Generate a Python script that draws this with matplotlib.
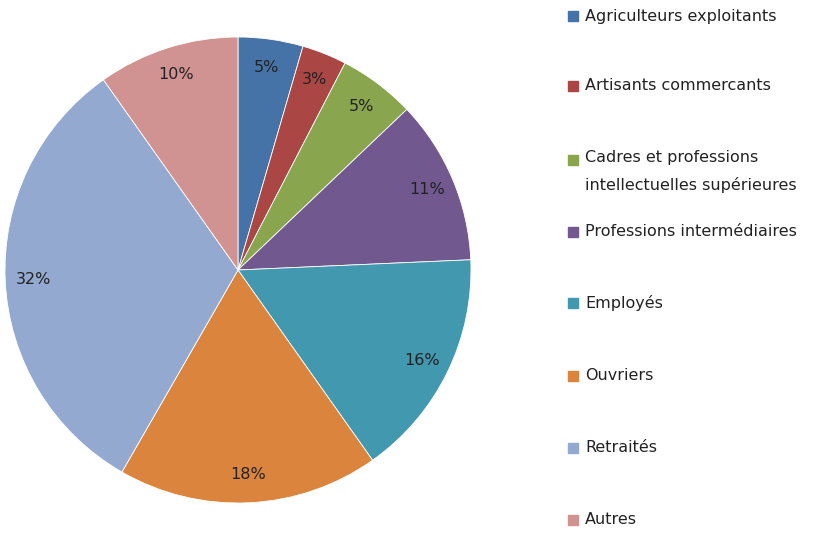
import matplotlib.pyplot as plt
from matplotlib.patches import Rectangle

labels = ["Agriculteurs exploitants", "Artisants commercants",
          "Cadres et professions\nintellectuelles supérieures",
          "Professions intermédiaires", "Employés", "Ouvriers",
          "Retraités", "Autres"]
values = [4.5, 3.1, 5.3, 11.4, 15.9, 18.1, 31.9, 9.8]
colors = ["#4572A7", "#AA4643", "#89A54E", "#71588F",
          "#4198AF", "#DB843D", "#93A9CF", "#D19392"]

W, H = 825, 534
fig = plt.figure(figsize=(W / 100, H / 100), dpi=100)
ax = fig.add_axes([5 / W, 31 / H, 466 / W, 466 / H])

ax.pie(values, colors=colors, startangle=90, counterclock=False,
       autopct=lambda p: f"{int(p + 0.5)}%", pctdistance=0.88,
       wedgeprops=dict(edgecolor="white", linewidth=0.6),
       textprops=dict(fontsize=11.5, color="#222222"))
ax.set_xlim(-1, 1)
ax.set_ylim(-1, 1)
ax.set_aspect("equal")

# legend drawn by hand, Excel style spacing
rows_y = [16, 86, 160, 232, 303, 376, 448, 520]
for lab, col, y in zip(labels, colors, rows_y):
    fig.patches.append(Rectangle((568 / W, (H - y - 5) / H), 10 / W, 10 / H,
                                 transform=fig.transFigure, color=col))
    if "\n" in lab:
        fig.text(585 / W, (H - y + 10) / H, lab, fontsize=11.5, color="#222222",
                 va="top", ha="left", linespacing=1.9)
    else:
        fig.text(585 / W, (H - y) / H, lab, fontsize=11.5, color="#222222",
                 va="center", ha="left")

fig.savefig("out.png", dpi=100)
